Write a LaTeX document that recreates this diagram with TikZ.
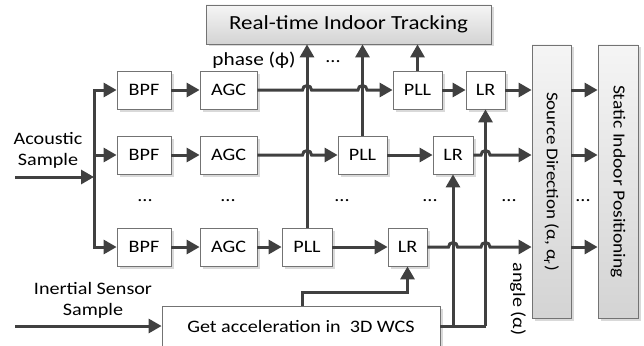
\documentclass[tikz,border=0pt]{standalone}
\usepackage{fontspec}
\setmainfont[FakeStretch=1.15]{Carlito}
\usetikzlibrary{arrows.meta,shadows,calc}
\begin{document}
\begin{tikzpicture}[x=1pt,y=-1pt,
  lbl/.style={font=\fontsize{17.5}{20}\selectfont, inner sep=0pt},
  box/.style={draw=black!55, line width=0.8pt, fill=white, minimum height=38pt, inner sep=0pt,
    font=\fontsize{17.5}{20}\selectfont,
    drop shadow={shadow xshift=2.5pt, shadow yshift=-2.5pt, fill=black!15, opacity=1}},
  gbox/.style={box, top color=black!4, bottom color=black!17},
  wire/.style={draw=black!75, line width=3pt},
  arr/.style={wire, -{Triangle[length=13pt,width=14pt]}},
]
\useasboundingbox (0,0) rectangle (644,345);

% ---- top and right boxes
\node[gbox, minimum width=285pt, minimum height=39pt, font=\fontsize{20}{22}\selectfont] (RT) at (348.5,24.5) {Real-time Indoor Tracking};
\node[gbox, rotate=-90, minimum width=273pt, minimum height=39pt, font=\fontsize{16.5}{19}\selectfont] (SD) at (551.5,181.5) {Source Direction (α, α\textsubscript{r})};
\node[gbox, rotate=-90, minimum width=273pt, minimum height=40pt, font=\fontsize{17}{19}\selectfont] (SIP) at (618,181.5) {Static Indoor Positioning};

% ---- processing boxes
\foreach \r/\y in {1/90,2/155,3/247}{
  \node[box, minimum width=54pt] (BPF\r) at (144,\y) {BPF};
  \node[box, minimum width=57pt] (AGC\r) at (228.5,\y) {AGC};
}
\node[box, minimum width=49pt] (PLL1) at (417.5,90) {PLL};
\node[box, minimum width=49pt] (PLL2) at (362.5,155) {PLL};
\node[box, minimum width=50pt] (PLL3) at (307,247) {PLL};
\node[box, minimum width=39pt] (LR1) at (485.5,90) {LR};
\node[box, minimum width=40pt] (LR2) at (453,155) {LR};
\node[box, minimum width=39pt] (LR3) at (407.5,247) {LR};

\node[box, minimum width=278pt, minimum height=40pt] (ACC) at (301,326) {Get acceleration in\ \ 3D WCS};

% ---- labels
\node[lbl, align=center] (acl) at (48,150) {Acoustic\\[1pt]Sample};
\node[lbl, align=center] (inl) at (93,300) {Inertial Sensor\\[1pt]Sample};
\node[lbl, font=\fontsize{18.5}{20}\selectfont] (ph) at (254,60) {phase (ϕ)};
\node[lbl, rotate=-90] (ang) at (518,299) {angle (α)};
\foreach \x/\y [count=\i] in {333/62,145/201,228/201,342/201,430/201,509/201,583/201}{
  \node[lbl] (dots\i) at (\x,\y) {...};
}

% ---- acoustic input
\coordinate (acin) at (15,177);
\coordinate (split) at (94,177);
\draw[arr] (acin) -- (split);
\draw[arr] (split) |- (BPF1.west);
\draw[arr] (split) |- (BPF3.west);
\draw[arr] (split |- BPF2.west) -- (BPF2.west);

% ---- row chains
\foreach \r in {1,2,3}{
  \draw[arr] (BPF\r.east) -- (AGC\r.east -| AGC\r.west);
}
\draw[arr] (AGC3.east) -- (PLL3.west);
\draw[arr] (PLL3.east) -- (LR3.west);
\draw[arr] (PLL2.east) -- (LR2.west);
\draw[arr] (PLL1.east) -- (LR1.west);

% AGC1 -> PLL1 with hops over two verticals
\draw[arr] (AGC1.east)
  -- ($(PLL3.north |- AGC1.east)+(-4.5,0)$) arc[start angle=180,end angle=0,radius=4.5pt]
  -- ($(PLL2.north |- AGC1.east)+(-4.5,0)$) arc[start angle=180,end angle=0,radius=4.5pt]
  -- (PLL1.west);
% AGC2 -> PLL2 with hop
\draw[arr] (AGC2.east)
  -- ($(PLL3.north |- AGC2.east)+(-4.5,0)$) arc[start angle=180,end angle=0,radius=4.5pt]
  -- (PLL2.west);

% PLL outputs up to tracking
\draw[arr] (PLL3.north) -- (PLL3.north |- RT.south);
\draw[arr] (PLL2.north) -- (PLL2.north |- RT.south);
\draw[arr] (PLL1.north) -- (PLL1.north |- RT.south);

% LR outputs to source direction
\draw[arr] (LR1.east) -- (LR1.east -| SD.south);
\draw[arr] (LR2.east)
  -- ($(LR1.south |- LR2.east)+(-4.5,0)$) arc[start angle=180,end angle=0,radius=4.5pt]
  -- (LR2.east -| SD.south);
\draw[arr] (LR3.east)
  -- ($(LR2.south |- LR3.east)+(-4.5,0)$) arc[start angle=180,end angle=0,radius=4.5pt]
  -- ($(LR1.south |- LR3.east)+(-4.5,0)$) arc[start angle=180,end angle=0,radius=4.5pt]
  -- (LR3.east -| SD.south);

% source direction -> static positioning
\foreach \r in {1,2,3}{
  \draw[arr] (LR\r.east -| SD.north) -- (LR\r.east -| SIP.south);
}

% inertial input
\coordinate (inin) at (15,326);
\draw[arr] (inin) -- (ACC.west);
\draw[arr] ($(ACC.north)+(1,0)$) -- ++(0,-13) -| (LR3.south);
\draw[wire] (ACC.east) -- (ACC.east -| LR1.south);
\draw[arr] (ACC.east -| LR2.south) -- (LR2.south);
\draw[arr] (ACC.east -| LR1.south) -- (LR1.south);
\end{tikzpicture}
\end{document}
